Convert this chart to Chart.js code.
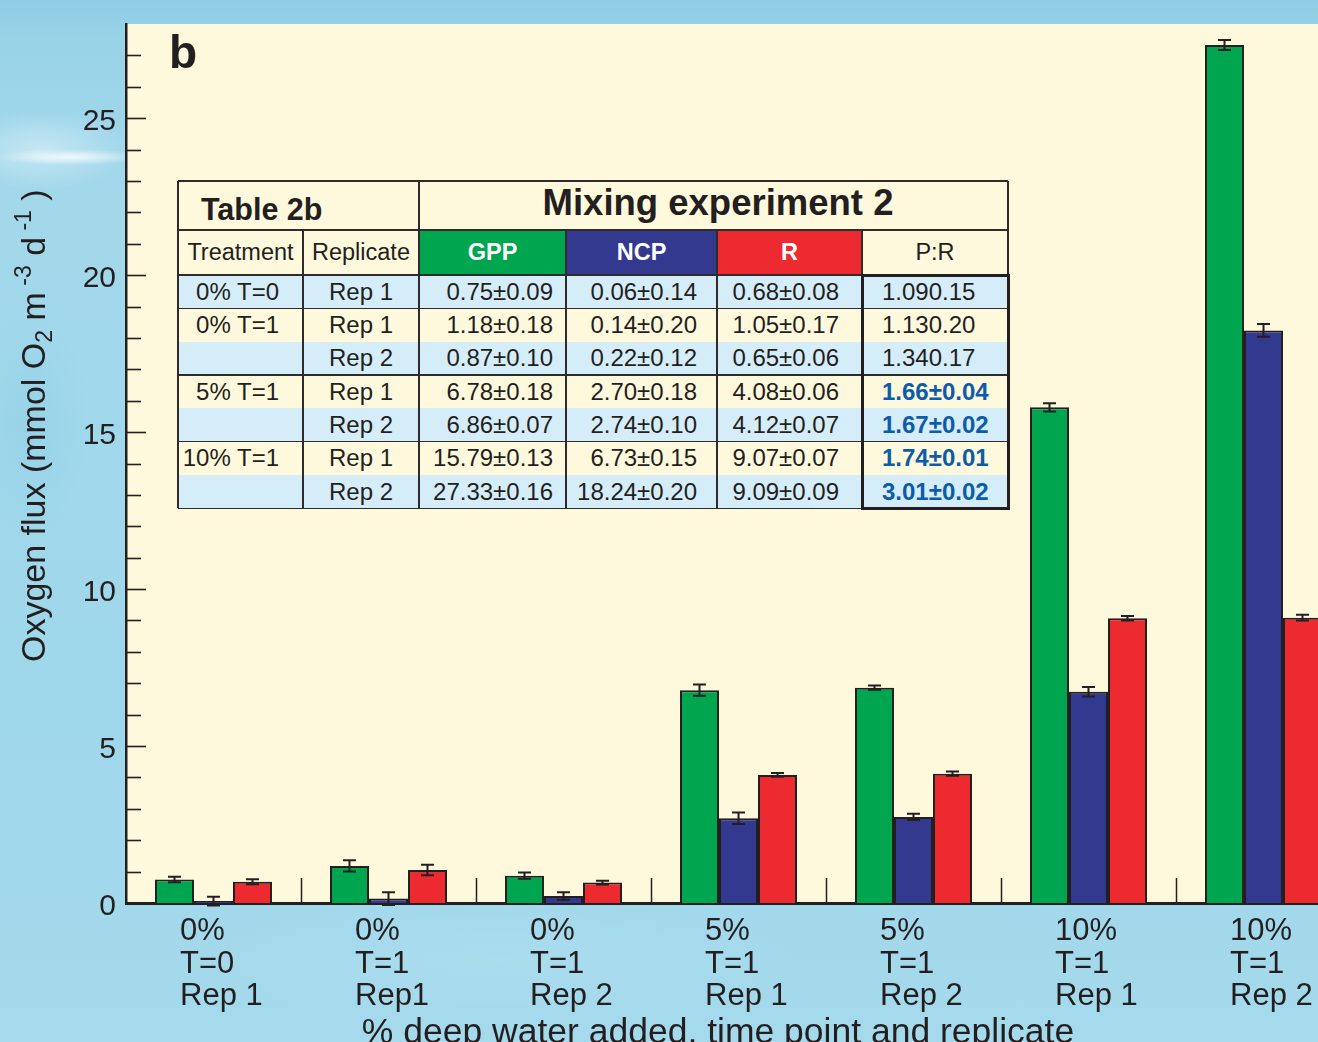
<!DOCTYPE html>
<html>
<head>
<meta charset="utf-8">
<title>Mixing experiment 2 – oxygen flux</title>
<script src="https://cdn.jsdelivr.net/npm/chart.js@4.4.1/dist/chart.umd.min.js"></script>
<style>
  html, body { margin: 0; padding: 0; width: 1318px; height: 1042px; overflow: hidden; }
  body {
    position: relative;
    font-family: "Liberation Sans", Arial, Helvetica, sans-serif;
    background-color: #a2d8eb;
    background-image:
      radial-gradient(ellipse 75px 8px at 70px 157px, rgba(255,255,255,0.8), rgba(255,255,255,0) 100%),
      radial-gradient(ellipse 90px 40px at 40px 150px, rgba(235,248,252,0.5), rgba(235,248,252,0) 100%),
      radial-gradient(ellipse 60px 120px at 30px 420px, rgba(140,205,230,0.45), rgba(140,205,230,0) 100%),
      radial-gradient(ellipse 300px 60px at 500px 960px, rgba(175,225,240,0.5), rgba(175,225,240,0) 100%),
      linear-gradient(180deg, #8ecde4 0px, #99d3e8 40px, #a3d8eb 200px, #9fd7ea 700px, #a5d9ec 1042px);
  }
  #chartBox { position: absolute; left: 0; top: 0; width: 1360px; height: 1042px; }
  #chartBox canvas { position: absolute; left: 0; top: 0; }
  #tbl { position: absolute; left: 178px; top: 181px; width: 831px; height: 328px; }
  #tbl .c { position: absolute; box-sizing: border-box; display: flex; align-items: center;
            white-space: nowrap; color: #231f20; font-size: 24px; line-height: 1; }
  #tbl .ln { position: absolute; background: #2f2b2c; }
</style>
</head>
<body>
<div id="chartBox"><canvas id="chart" width="1360" height="1042"></canvas></div>
<div id="tbl"></div>

<script>
// ---- data -------------------------------------------------------------
const categories = [
  ['0%', 'T=0', 'Rep 1'],
  ['0%', 'T=1', 'Rep1'],
  ['0%', 'T=1', 'Rep 2'],
  ['5%', 'T=1', 'Rep 1'],
  ['5%', 'T=1', 'Rep 2'],
  ['10%', 'T=1', 'Rep 1'],
  ['10%', 'T=1', 'Rep 2']
];
const gpp     = [0.75, 1.18, 0.87, 6.78, 6.86, 15.79, 27.33];
const gppErr  = [0.09, 0.18, 0.10, 0.18, 0.07, 0.13, 0.16];
const ncp     = [0.06, 0.14, 0.22, 2.70, 2.74, 6.73, 18.24];
const ncpErr  = [0.14, 0.20, 0.12, 0.18, 0.10, 0.15, 0.20];
const resp    = [0.68, 1.05, 0.65, 4.08, 4.12, 9.07, 9.09];
const respErr = [0.08, 0.17, 0.06, 0.06, 0.07, 0.07, 0.09];
const pr      = [1.09, 1.13, 1.34, 1.66, 1.67, 1.74, 3.01];
const prErr   = [0.15, 0.20, 0.17, 0.04, 0.02, 0.01, 0.02];
const prSep   = ['', '', '', '±', '±', '±', '±'];
const prBold  = [false, false, false, true, true, true, true];
const treatments = ['0% T=0', '0% T=1', '', '5% T=1', '', '10% T=1', ''];
const replicates = ['Rep 1', 'Rep 1', 'Rep 2', 'Rep 1', 'Rep 2', 'Rep 1', 'Rep 2'];
const yTicks = [0, 5, 10, 15, 20, 25];
const yMax = 28;
const seriesNames = ['GPP', 'NCP', 'R'];

// ---- styling ----------------------------------------------------------
const FONT = '"Liberation Sans", Arial, Helvetica, sans-serif';
const INK = '#231f20';
const CREAM = '#fef8dc';
const ROWBLUE = '#d5edf9';
const GREEN = '#00a64f';
const NAVY = '#32398f';
const RED = '#ec2a2f';
const PRBLUE = '#0b5cab';

const fmt = v => v.toFixed(2);

// ---- plugins ----------------------------------------------------------
const plotBackground = {
  id: 'plotBackground',
  beforeDraw(chart) {
    const { ctx, chartArea: a } = chart;
    ctx.save();
    ctx.fillStyle = CREAM;
    ctx.fillRect(a.left, a.top, a.right - a.left, a.bottom - a.top);
    ctx.restore();
  }
};

const errorBars = {
  id: 'errorBars',
  afterDatasetsDraw(chart) {
    const { ctx } = chart;
    const y = chart.scales.y;
    ctx.save();
    ctx.strokeStyle = INK;
    ctx.lineWidth = 2;
    chart.data.datasets.forEach((ds, d) => {
      chart.getDatasetMeta(d).data.forEach((bar, i) => {
        const v = ds.data[i], e = ds.err[i];
        const yTop = y.getPixelForValue(v + e);
        const yBot = y.getPixelForValue(v - e);
        const half = 6.5;
        ctx.beginPath();
        ctx.moveTo(bar.x, yTop); ctx.lineTo(bar.x, yBot);
        ctx.moveTo(bar.x - half, yTop); ctx.lineTo(bar.x + half, yTop);
        ctx.moveTo(bar.x - half, yBot); ctx.lineTo(bar.x + half, yBot);
        ctx.stroke();
      });
    });
    ctx.restore();
  }
};

const axisDecor = {
  id: 'axisDecor',
  afterDraw(chart) {
    const { ctx, chartArea: a } = chart;
    const x = chart.scales.x, y = chart.scales.y;
    ctx.save();
    ctx.strokeStyle = INK;
    ctx.fillStyle = INK;

    // inward ticks on the value axis: one per unit, longer at labelled values
    ctx.lineWidth = 1.6;
    for (let v = 1; v < yMax; v++) {
      const py = Math.round(y.getPixelForValue(v)) + 0.5;
      const len = yTicks.includes(v) ? 20 : 15;
      ctx.beginPath();
      ctx.moveTo(a.left, py); ctx.lineTo(a.left + len, py);
      ctx.stroke();
    }

    // short separators between the category groups
    ctx.lineWidth = 1.5;
    for (let i = 0; i < categories.length - 1; i++) {
      const px = Math.round((x.getPixelForValue(i) + x.getPixelForValue(i + 1)) / 2) + 0.5;
      ctx.beginPath();
      ctx.moveTo(px, a.bottom); ctx.lineTo(px, a.bottom - 25);
      ctx.stroke();
    }

    // category labels, each stacked and left aligned
    ctx.font = '31px ' + FONT;
    ctx.textAlign = 'left';
    ctx.textBaseline = 'alphabetic';
    categories.forEach((lines, i) => {
      const px = x.getPixelForValue(i) - 33.5;
      lines.forEach((t, k) => ctx.fillText(t, px, a.bottom + 37 + k * 32.5));
    });

    // axis title under the categories
    ctx.font = '35.5px ' + FONT;
    ctx.textAlign = 'center';
    ctx.fillText('% deep water added, time point and replicate', 718, 1043);

    // value axis title with sub- and superscripts
    ctx.save();
    ctx.translate(45, 662);
    ctx.rotate(-Math.PI / 2);
    ctx.textAlign = 'left';
    const runs = [
      { t: 'Oxygen flux (mmol O', s: 34, dy: 0 },
      { t: '2', s: 23, dy: 7 },
      { t: ' m', s: 34, dy: 0 },
      { t: ' -3', s: 23, dy: -14 },
      { t: ' d', s: 34, dy: 0 },
      { t: ' -1', s: 23, dy: -14 },
      { t: ' )', s: 34, dy: 0 }
    ];
    let cx = 0;
    runs.forEach(r => {
      ctx.font = r.s + 'px ' + FONT;
      ctx.fillText(r.t, cx, r.dy);
      cx += ctx.measureText(r.t).width;
    });
    ctx.restore();

    // panel letter
    ctx.font = 'bold 46px ' + FONT;
    ctx.textAlign = 'left';
    ctx.fillText('b', 169, 68);

    ctx.restore();
  }
};

// ---- chart ------------------------------------------------------------
const seriesValues = [gpp, ncp, resp];
const seriesErrors = [gppErr, ncpErr, respErr];
const seriesColors = [GREEN, NAVY, RED];

new Chart(document.getElementById('chart'), {
  type: 'bar',
  data: {
    labels: categories,
    datasets: seriesNames.map((name, k) => ({
      label: name,
      data: seriesValues[k],
      err: seriesErrors[k],
      backgroundColor: seriesColors[k],
      borderColor: INK,
      borderWidth: 2,
      categoryPercentage: 0.6686,
      barPercentage: 1
    }))
  },
  options: {
    responsive: false,
    animation: false,
    devicePixelRatio: 1,
    layout: { padding: { top: 24, right: 9, bottom: 0, left: 0 } },
    plugins: { legend: { display: false }, tooltip: { enabled: false } },
    scales: {
      x: {
        grid: { display: false },
        border: { color: INK, width: 3 },
        ticks: { display: false },
        afterFit(scale) { scale.height = 139; scale.paddingLeft = 0; scale.paddingRight = 0; }
      },
      y: {
        min: 0,
        max: yMax,
        grid: { display: false, drawTicks: false },
        border: { color: INK, width: 2.5 },
        ticks: { color: INK, padding: 10, labelOffset: 4, autoSkip: false, font: { size: 30, family: FONT } },
        afterBuildTicks(scale) { scale.ticks = yTicks.map(v => ({ value: v })); },
        afterFit(scale) { scale.width = 126; scale.paddingTop = 0; scale.paddingBottom = 0; }
      }
    }
  },
  plugins: [plotBackground, errorBars, axisDecor]
});

// ---- table overlay ----------------------------------------------------
(function buildTable() {
  const host = document.getElementById('tbl');
  const colX = [0, 125, 241, 388, 539, 684, 830];
  const head1 = 49, head2 = 94, rowH = 33.33;
  const rowY = i => head2 + i * rowH;

  function el(cls, x, y, w, h, css, text) {
    const d = document.createElement('div');
    d.className = cls;
    Object.assign(d.style, { left: x + 'px', top: y + 'px', width: w + 'px', height: h + 'px' }, css || {});
    if (text !== undefined) d.textContent = text;
    host.appendChild(d);
    return d;
  }

  // backgrounds
  el('c', 0, 0, 830, rowY(7), { background: CREAM });
  for (let i = 0; i < 7; i += 2) el('c', 0, rowY(i), 830, rowH, { background: ROWBLUE });
  el('c', colX[2], head1, colX[3] - colX[2], head2 - head1, { background: GREEN });
  el('c', colX[3], head1, colX[4] - colX[3], head2 - head1, { background: NAVY });
  el('c', colX[4], head1, colX[5] - colX[4], head2 - head1, { background: RED });

  // titles
  el('c', 0, 0, colX[2], head1, { paddingLeft: '23px', paddingTop: '8px', fontWeight: 'bold', fontSize: '30.5px' }, 'Table 2b');
  el('c', colX[2], 0, colX[6] - colX[2], head1, { justifyContent: 'center', paddingLeft: '9px', paddingBottom: '4px', fontWeight: 'bold', fontSize: '36.5px' }, 'Mixing experiment 2');

  // column headers
  const heads = ['Treatment', 'Replicate', 'GPP', 'NCP', 'R', 'P:R'];
  heads.forEach((t, c) => {
    const coloured = c >= 2 && c <= 4;
    el('c', colX[c], head1, colX[c + 1] - colX[c], head2 - head1,
       { justifyContent: 'center', paddingTop: '1px', fontSize: '23.5px',
         color: coloured ? '#ffffff' : INK, fontWeight: coloured ? 'bold' : 'normal' }, t);
  });

  // body rows
  const valueCols = [[gpp, gppErr, 13], [ncp, ncpErr, 20], [resp, respErr, 23]];
  for (let i = 0; i < 7; i++) {
    const y = rowY(i);
    if (treatments[i]) el('c', colX[0], y, colX[1] - colX[0], rowH, { justifyContent: 'flex-end', paddingRight: '24px' }, treatments[i]);
    el('c', colX[1], y, colX[2] - colX[1], rowH, { justifyContent: 'center' }, replicates[i]);
    valueCols.forEach(([vals, errs, pad], k) => {
      el('c', colX[2 + k], y, colX[3 + k] - colX[2 + k], rowH,
         { justifyContent: 'flex-end', paddingRight: pad + 'px' }, fmt(vals[i]) + '±' + fmt(errs[i]));
    });
    el('c', colX[5], y, colX[6] - colX[5], rowH,
       { paddingLeft: '20px', color: prBold[i] ? PRBLUE : INK, fontWeight: prBold[i] ? 'bold' : 'normal' },
       fmt(pr[i]) + prSep[i] + fmt(prErr[i]));
  }

  // rules
  const t = 1.6;
  [0, head1, head2, rowY(1), rowY(3), rowY(5), rowY(7)].forEach(y => el('ln', 0, y - t / 2, 830, t));
  el('ln', colX[0] - t / 2, 0, t, rowY(7));
  el('ln', colX[2] - t / 2, 0, t, rowY(7));
  el('ln', colX[6] - t / 2, 0, t, rowY(7));
  [1, 3, 4, 5].forEach(c => el('ln', colX[c] - t / 2, head1, t, rowY(7) - head1));

  // heavy frame round the ratio column
  el('c', colX[5] - 1.5, head2 - 1.5, colX[6] - colX[5] + 3, rowY(7) - head2 + 3,
     { border: '3px solid ' + INK, background: 'transparent' });
})();
</script>
</body>
</html>
